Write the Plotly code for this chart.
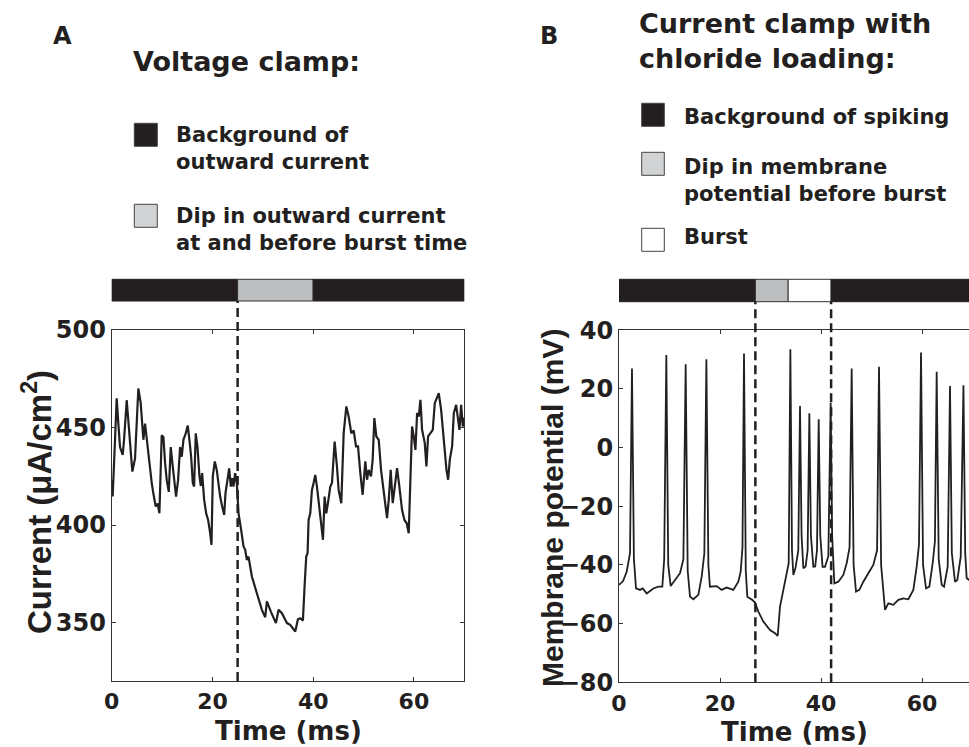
import plotly.graph_objects as go

W, H = 969, 747

# ---------------- data ----------------
A_time = [0, 0.19, 0.66, 0.99, 1.32, 1.65, 2.18, 2.45, 2.98, 3.31,
          3.77, 4.10, 4.63, 4.96, 5.29, 5.76, 6.09, 6.29, 6.62, 6.95,
          7.48, 7.95, 8.28, 8.74, 9.14, 9.47, 9.93, 10.27, 10.6, 10.93,
          11.33, 11.72, 12.12, 12.45, 12.78, 13.18, 13.58, 13.91, 14.24, 14.7,
          15.1, 15.43, 15.77, 16.1, 16.36, 16.69, 17.03, 17.42, 17.69, 17.95,
          18.35, 18.75, 19.14, 19.54, 19.81, 20.07, 20.47, 20.87, 21.2, 21.53,
          21.93, 22.33, 22.59, 22.99, 23.32, 23.65, 23.92, 24.18, 24.51, 24.84,
          25.18, 25.7, 26.17, 26.5, 26.83, 27.16, 27.83, 28.82, 29.82, 30.48,
          30.81, 31.6, 32.6, 33.13, 33.79, 34.79, 35.44, 36.44, 36.97, 37.43,
          37.96, 38.29, 38.62, 38.89, 39.09, 39.42, 39.75, 40.08, 40.41, 40.75,
          41.28, 41.94, 42.27, 42.6, 42.93, 43.4, 43.73, 44.26, 44.72, 45.05,
          45.58, 46.05, 46.58, 47.04, 47.57, 48.04, 48.5, 48.9, 49.36, 49.82,
          50.35, 50.69, 51.02, 51.48, 51.81, 52.14, 52.54, 53.01, 53.47, 54.0,
          54.66, 55.0, 55.39, 55.79, 56.19, 56.65, 57.11, 57.64, 58.11, 58.57,
          58.97, 59.3, 59.63, 59.96, 60.3, 60.63, 60.96, 61.29, 61.62, 62.15,
          62.48, 62.81, 63.28, 63.74, 64.14, 64.6, 64.93, 65.4, 65.93, 66.46,
          66.79, 67.12, 67.58, 67.92, 68.38, 68.78, 69.04, 69.37, 69.7, 70]
A_current = [423, 414.6, 443.7, 465, 452, 440, 436, 443.7, 464, 452,
             435, 427.4, 434, 449, 470, 462.5, 450.5, 443.7, 452, 443.7,
             431.7, 421.5, 416, 409.5, 411, 406, 446, 445, 431.7, 423,
             417, 440, 430, 421.5, 414.6, 423, 440, 435, 443.7, 447,
             451, 443.7, 435, 421.5, 419.7, 447, 440, 425, 420, 426.6,
             413, 406, 402.6, 395.8, 389.8, 425, 432.6, 428, 419.7, 414.6,
             409.5, 405.2, 416.3, 423, 429, 419.7, 424, 419.7, 426.6, 421.5,
             406, 397.5, 389, 387.3, 382.1, 383.8, 373.6, 365, 356.5, 352.7,
             360.8, 355.6, 349.7, 356.5, 354.8, 349.7, 348.8, 345.4, 351.7, 352.2,
             351, 368.5, 383.8, 385.6, 402.6, 406, 418, 421.5, 425.7, 419.7,
             406, 392.4, 414.6, 406, 411.2, 419.7, 421.5, 442.8, 430, 418,
             411.2, 447, 460.8, 455.6, 447, 448.5, 440.3, 440.3, 426.6, 415.5,
             432.6, 423.2, 428.3, 424.9, 433.4, 454.8, 445.4, 443.7, 428.3, 416.3,
             403.5, 412.9, 428.3, 411.2, 419.7, 429.1, 419.7, 407.8, 402.6, 400.9,
             395.8, 419.7, 450.5, 445.4, 438.5, 457.4, 455.6, 464.2, 448.8, 442,
             430, 445.4, 447, 448.8, 462.5, 465.9, 467.6, 459, 443.7, 428.3,
             423.2, 433.4, 440.3, 457.4, 461.6, 452.2, 448.8, 461.6, 450.5, 455]

B_time = [0, 0.8, 1.52, 2.18, 2.57, 2.95, 3.37, 4.16, 4.69, 5.48,
          6.8, 7.79, 8.58, 8.95, 9.37, 9.75, 10.23, 11.1, 12.08, 12.75,
          13.2, 13.6, 14.06, 14.72, 15.71, 16.37, 16.9, 17.3, 17.7, 18.0,
          19.34, 20.33, 21.32, 22.64, 23.63, 24.09, 24.45, 24.75, 25.1, 25.41,
          26.4, 26.93, 27.59, 28.58, 29.9, 30.89, 31.42, 31.88, 32.54, 33.2,
          33.6, 33.93, 34.25, 34.52, 34.95, 35.5, 35.84, 36.15, 36.5, 36.95,
          37.35, 37.69, 38.0, 38.48, 38.85, 39.2, 39.54, 39.85, 40.3, 40.79,
          41.45, 41.91, 42.2, 42.64, 43.43, 44.42, 45.08, 45.65, 46.07, 46.45,
          46.93, 47.59, 48.38, 49.37, 50.36, 51.1, 51.48, 51.9, 52.67, 53.33,
          54.32, 55.31, 56.3, 57.29, 58.28, 58.94, 59.4, 59.8, 60.2, 60.79,
          61.45, 62.11, 62.55, 62.9, 63.3, 63.9, 64.36, 65.08, 65.54, 65.9,
          66.53, 66.99, 67.66, 68.2, 68.55, 68.84, 69.3, 69.6]
B_voltage = [-46.8, -45.5, -42.3, -36, 27.0, -38, -48, -48.5, -48, -49.7,
             -48, -47.4, -47.4, -38, 31.6, -40, -47.2, -45.1, -42.8, -38,
             28.4, -42, -50.8, -51.7, -50.2, -44, -36, 30.1, -40, -47.4,
             -47.2, -48.5, -47.7, -48.5, -45.7, -42.3, -34, 32.1, -42, -50.8,
             -51.9, -52.8, -55.9, -59.3, -62.2, -63.3, -64.2, -54.2, -48.5, -43.4,
             -39.4, 33.5, -35, -43.4, -41, -35, 14.2, -30, -41.1, -40.5,
             -35, 11.7, -30, -40.6, -40.5, -35, 9.7, -30, -40.6, -40.6,
             -37, 15.3, -30, -46.3, -45.7, -43.4, -39.4, -34, 27.0, -40,
             -49.1, -48.5, -45.7, -42.8, -40, -35, 27.6, -40, -55.3, -53.1,
             -53.6, -51.9, -51.4, -51.7, -48.5, -40.6, -33, 32.4, -40, -48,
             -47.4, -39.4, -32, 25.9, -38, -46.8, -47.4, -40.6, 21.0, -36,
             -45.7, -45.1, -37.2, 21.3, -36, -44.5, -45.1, -44]

# epoch bars above the traces (start, end, kind)
A_epoch_start = [0, 25, 40]
A_epoch_end = [25, 40, 70]
A_epoch_kind = ["background", "dip", "background"]
B_epoch_start = [0, 27, 33.5, 42]
B_epoch_end = [27, 33.5, 42, 70]
B_epoch_kind = ["background", "dip", "burst", "background"]
A_dashed = [25]
B_dashed = [27, 42]

A_xticks = [0, 20, 40, 60]
A_yticks = [350, 400, 450, 500]
B_xticks = [0, 20, 40, 60]
B_yticks = [-80, -60, -40, -20, 0, 20, 40]

A_legend_labels = ["Background of<br>outward current",
                   "Dip in outward current<br>at and before burst time"]
B_legend_labels = ["Background of spiking",
                   "Dip in membrane<br>potential before burst",
                   "Burst"]

# ---------------- styling ----------------
INK = "#231f20"
GRAY_BAR = "#bcbec0"
GRAY_KEY = "#d1d3d4"
KIND_COLOR = {"background": INK, "dip": GRAY_BAR, "burst": "#ffffff"}
FONT = "DejaVu Sans"
FONT_Y = "Liberation Sans"


def px(x):
    return x / W


def py(y):
    return 1 - y / H


fig = go.Figure()
fig.add_trace(go.Scatter(x=A_time, y=A_current, mode="lines",
                         line=dict(color=INK, width=2.2), xaxis="x", yaxis="y",
                         showlegend=False, hoverinfo="skip"))
fig.add_trace(go.Scatter(x=B_time, y=B_voltage, mode="lines",
                         line=dict(color=INK, width=1.8), xaxis="x2", yaxis="y2",
                         showlegend=False, hoverinfo="skip"))

xtickfont = dict(family=FONT, size=22, color=INK, weight="bold")
ytickfont = dict(family=FONT, size=24, color=INK, weight="bold")
common_x = dict(showline=True, linecolor="#333333", linewidth=1, mirror="ticks",
                ticks="inside", ticklen=4, tickcolor="#333333", showgrid=False,
                zeroline=False, tickfont=xtickfont, ticklabelstandoff=1,
                automargin=False)
common_y = dict(showline=True, linecolor="#333333", linewidth=1,
                ticks="inside", ticklen=4, tickcolor="#333333", showgrid=False,
                zeroline=False, tickfont=ytickfont, automargin=False)

A_left, A_right, A_top, A_bot = 111.7, 464.3, 330, 681
B_left, B_top, B_bot = 619, 330.3, 682.3

fig.update_layout(
    template="none",
    width=W, height=H, autosize=False,
    margin=dict(l=0, r=0, t=0, b=0, pad=0, autoexpand=False),
    paper_bgcolor="white", plot_bgcolor="white", showlegend=False,
    xaxis=dict(domain=[px(A_left), px(A_right)], range=[0, 70],
               tickvals=A_xticks, anchor="y", **common_x),
    yaxis=dict(domain=[py(A_bot), py(A_top)], range=[320, 500],
               tickvals=A_yticks, anchor="x", mirror="ticks", **common_y),
    xaxis2=dict(domain=[px(B_left), 1.0], range=[0, 69.3],
                tickvals=B_xticks, anchor="y2", **common_x),
    yaxis2=dict(domain=[py(B_bot), py(B_top)], range=[-80, 40],
                tickvals=B_yticks, anchor="x2", **common_y),
)

shapes = []
# epoch bars
for (starts, ends, kinds, xr, y0, y1) in [
        (A_epoch_start, A_epoch_end, A_epoch_kind, "x", 301, 279.3),
        (B_epoch_start, B_epoch_end, B_epoch_kind, "x2", 301.7, 279.3)]:
    for s, e, k in zip(starts, ends, kinds):
        shapes.append(dict(type="rect", xref=xr, yref="paper", x0=s, x1=e,
                           y0=py(y0), y1=py(y1), fillcolor=KIND_COLOR[k],
                           line=dict(color="#333333" if k != "background" else INK, width=1),
                           layer="above"))
# dashed markers
for xs, xr, ytop, ybot in [(A_dashed, "x", 301, A_bot), (B_dashed, "x2", 301.7, B_bot)]:
    for xv in xs:
        shapes.append(dict(type="line", xref=xr, yref="paper", x0=xv, x1=xv,
                           y0=py(ybot), y1=py(ytop),
                           line=dict(color=INK, width=2.5, dash="9px,5px"),
                           layer="above"))

# legend keys
key_fill = [INK, GRAY_KEY, "#ffffff"]
A_key_tops = [123.3, 204.3]
B_key_tops = [103.3, 152.3, 228.3]
for i, t in enumerate(A_key_tops):
    shapes.append(dict(type="rect", xref="paper", yref="paper",
                       x0=px(134.3), x1=px(157.3), y0=py(t + 23), y1=py(t),
                       fillcolor=key_fill[i], line=dict(color="#444444", width=1)))
for i, t in enumerate(B_key_tops):
    shapes.append(dict(type="rect", xref="paper", yref="paper",
                       x0=px(641.7), x1=px(664.3), y0=py(t + 23), y1=py(t),
                       fillcolor=key_fill[i], line=dict(color="#444444", width=1)))
fig.update_layout(shapes=shapes)

ann = []


def text(s, x, y, size, xanchor="left", family=FONT, angle=0):
    ann.append(dict(text=s, x=px(x), y=py(y), xref="paper", yref="paper",
                    xanchor=xanchor, yanchor="middle", showarrow=False,
                    textangle=angle, align="left",
                    font=dict(family=family, size=size, color=INK, weight="bold")))


# panel letters and headings
text("A", 62.5, 36.5, 24, xanchor="center")
text("B", 549, 36.5, 24, xanchor="center")
text("Voltage clamp:", 131, 61, 27)
text("Current clamp with", 637, 23.5, 27)
text("chloride loading:", 637, 58.5, 27)

# legend texts
A_legend_y = [148.5, 229.5]
for s, yv in zip(A_legend_labels, A_legend_y):
    text(s, 174, yv, 21)
B_legend_y = [117, 180.5, 237.5]
for s, yv in zip(B_legend_labels, B_legend_y):
    text(s, 682, yv, 21)

# axis titles
text("Time (ms)", 288, 731, 26, xanchor="center")
text("Time (ms)", 794, 732, 26, xanchor="center")
text("Current (μA/cm<sup>2</sup>)", 37, 502, 33, xanchor="center", family=FONT_Y, angle=-90)
text("Membrane potential (mV)", 552, 508, 30, xanchor="center", family=FONT_Y, angle=-90)

fig.update_layout(annotations=ann)
fig.write_html("out.html", config={"responsive": False, "displayModeBar": False})
